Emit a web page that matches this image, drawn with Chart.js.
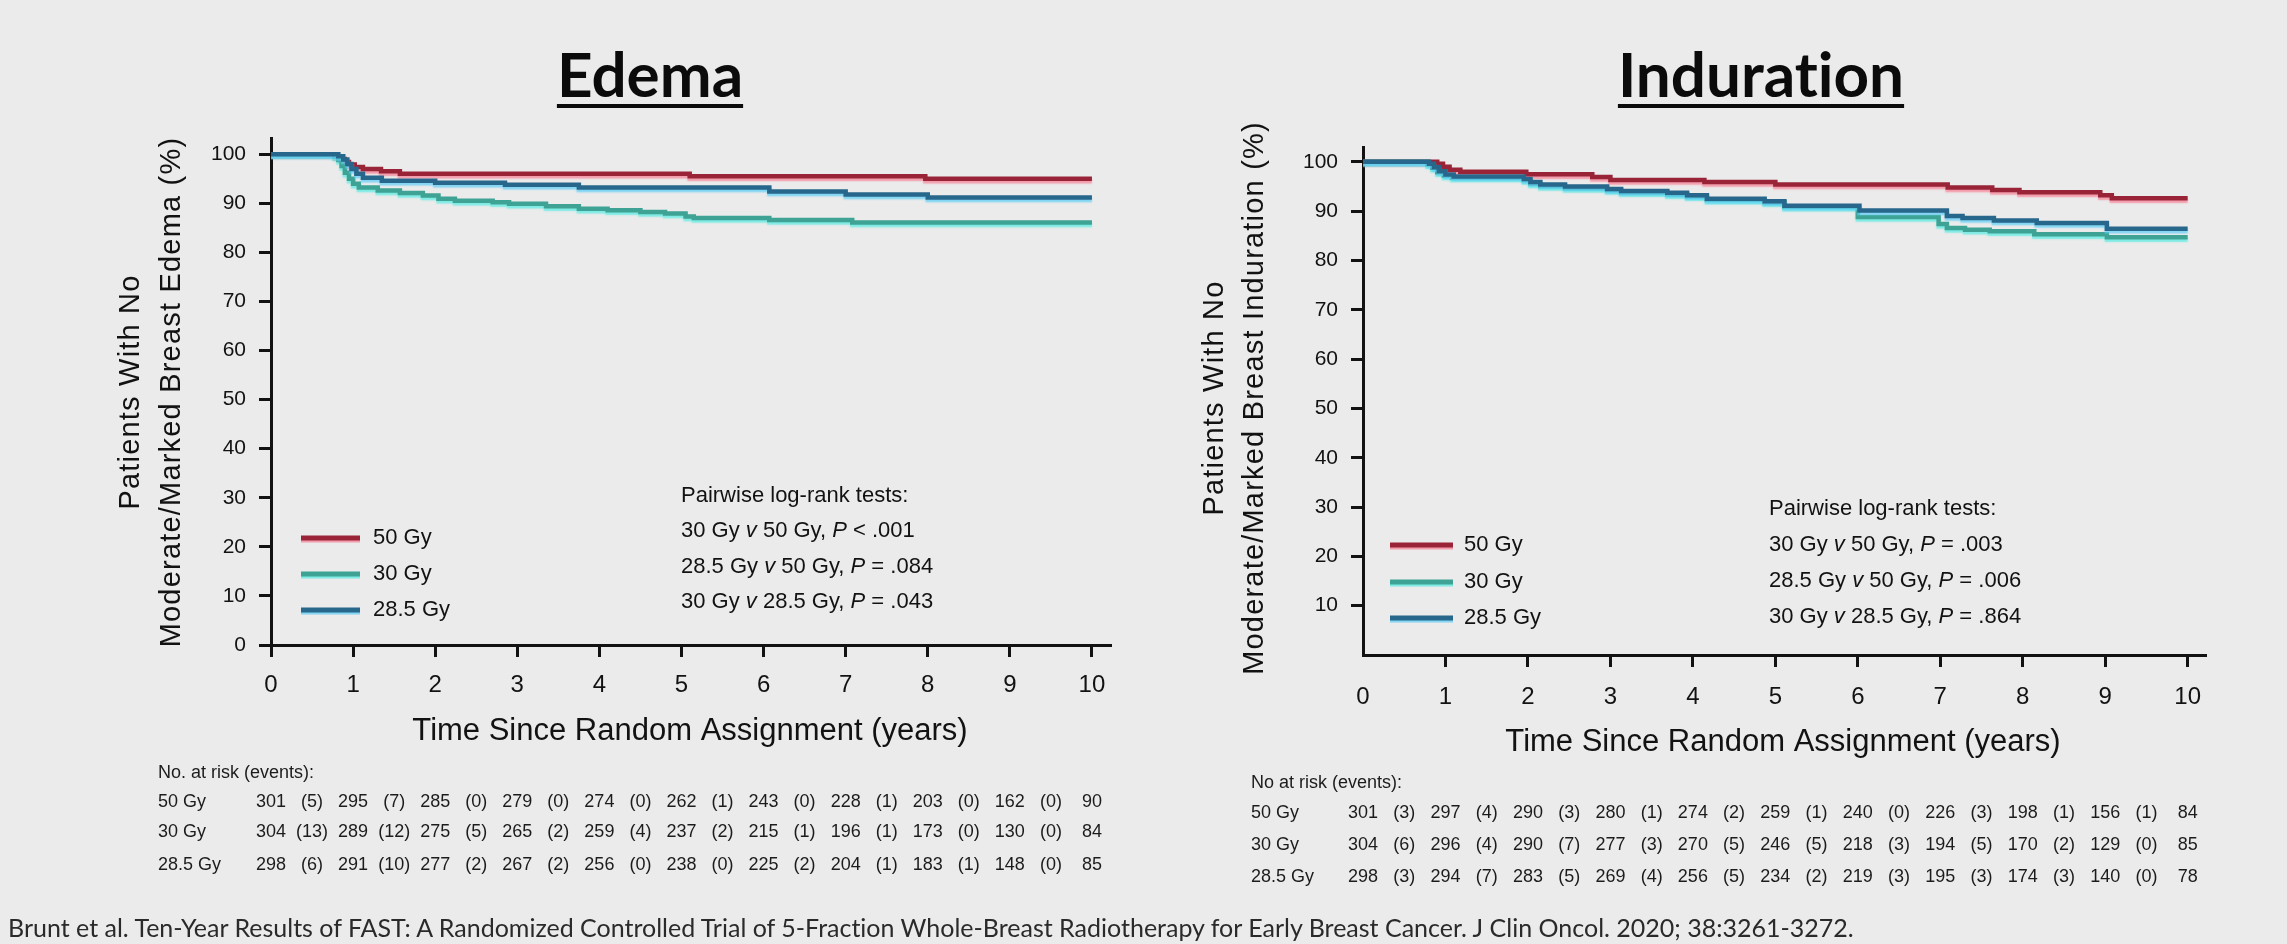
<!DOCTYPE html>
<html>
<head>
<meta charset="utf-8">
<title>FAST – Edema and Induration</title>
<script src="https://cdn.jsdelivr.net/npm/chart.js@4.4.1/dist/chart.umd.min.js"></script>
<style>
  html, body { margin: 0; padding: 0; background: #ebebeb; }
  #stage { position: relative; width: 2287px; height: 944px; overflow: hidden; background: #ebebeb; }
  #stage canvas { position: absolute; top: 0; }
  .panel-title {
    position: absolute; top: 42px;
    font-family: Lato, "Open Sans", sans-serif; font-weight: 700; font-size: 62px; line-height: 62px;
    font-variant-ligatures: none;
    color: #0b0b0b; white-space: nowrap; transform: translateX(-50%);
    text-decoration: underline; text-decoration-thickness: 4px; text-underline-offset: 7px;
  }
  .cite {
    position: absolute; left: 8px; top: 915px;
    font-family: Lato, "Open Sans", sans-serif; font-size: 25px; line-height: 25px;
    font-variant-ligatures: none;
    color: #2a2a2a; white-space: nowrap;
  }
</style>
</head>
<body>
<div id="stage">
  <canvas id="edemaChart" width="1150" height="944" style="left:0"></canvas>
  <canvas id="indurationChart" width="1137" height="944" style="left:1150px"></canvas>
  <div class="panel-title" style="left:650px">Edema</div>
  <div class="panel-title" style="left:1761px">Induration</div>
  <div class="cite">Brunt et al. Ten-Year Results of FAST: A Randomized Controlled Trial of 5-Fraction Whole-Breast Radiotherapy for Early Breast Cancer. J Clin Oncol. 2020; 38:3261-3272.</div>
</div>

<script>
// ---- axis tick values ----
const yearTicks = [0, 1, 2, 3, 4, 5, 6, 7, 8, 9, 10];
const edemaPctTicks = [0, 10, 20, 30, 40, 50, 60, 70, 80, 90, 100];
const indurationPctTicks = [10, 20, 30, 40, 50, 60, 70, 80, 90, 100];

// ---- Kaplan-Meier curves: [years, % free of moderate/marked change] ----
const edema50 = [[0,100],[0.78,99.6],[0.85,99.0],[0.9,98.4],[0.95,97.9],[1.02,97.4],[1.12,97.0],[1.34,96.5],[1.57,96.0],[5.1,95.5],[7.97,95.0],[10,95.0]];
const edema30 = [[0,100],[0.77,99.6],[0.82,98.8],[0.86,97.6],[0.9,96.2],[0.95,95.0],[1.0,94.0],[1.07,93.2],[1.3,92.6],[1.57,92.1],[1.85,91.6],[2.04,90.9],[2.24,90.5],[2.7,90.2],[2.9,89.9],[3.35,89.4],[3.75,88.9],[4.1,88.6],[4.5,88.2],[4.8,87.9],[5.05,87.3],[5.15,87.0],[6.07,86.6],[7.08,86.1],[10,86.1]];
const edema285 = [[0,100],[0.82,99.6],[0.88,98.9],[0.93,98.0],[0.98,97.0],[1.04,96.0],[1.12,95.2],[1.35,94.6],[2.0,94.2],[2.85,93.8],[3.75,93.2],[6.07,92.4],[7.0,91.8],[8.0,91.2],[10,91.2]];

const induration50 = [[0,100],[0.9,99.6],[0.97,99.0],[1.05,98.4],[1.18,98.0],[1.98,97.5],[2.78,96.9],[3.0,96.3],[4.14,95.9],[5.0,95.4],[7.09,94.8],[7.63,94.3],[7.96,93.8],[8.94,93.2],[9.08,92.6],[10,92.6]];
const induration30 = [[0,100],[0.78,99.5],[0.84,98.8],[0.9,97.9],[0.98,97.2],[1.08,96.8],[1.95,96.3],[2.03,95.6],[2.15,95.1],[2.45,94.7],[2.96,94.3],[3.13,93.8],[3.69,93.4],[3.93,93.0],[4.17,92.3],[4.87,91.8],[5.11,90.9],[6.0,88.8],[6.98,87.4],[7.08,86.6],[7.3,86.2],[7.6,85.9],[8.14,85.3],[9.02,84.7],[10,84.7]];
const induration285 = [[0,100],[0.8,99.6],[0.86,98.9],[0.92,98.1],[1.0,97.4],[1.1,97.0],[1.95,96.5],[2.03,95.9],[2.15,95.4],[2.45,95.0],[2.96,94.5],[3.13,94.1],[3.69,93.7],[3.93,93.2],[4.17,92.5],[4.87,92.0],[5.11,91.1],[6.02,90.1],[7.08,89.0],[7.27,88.6],[7.65,88.1],[8.17,87.6],[9.02,86.4],[10,86.4]];

// ---- numbers at risk (at each year) and events (within each year) ----
const armLabels = ['50 Gy', '30 Gy', '28.5 Gy'];
const edemaAtRisk = [
  [301, 295, 285, 279, 274, 262, 243, 228, 203, 162, 90],
  [304, 289, 275, 265, 259, 237, 215, 196, 173, 130, 84],
  [298, 291, 277, 267, 256, 238, 225, 204, 183, 148, 85]
];
const edemaEvents = [
  [5, 7, 0, 0, 0, 1, 0, 1, 0, 0],
  [13, 12, 5, 2, 4, 2, 1, 1, 0, 0],
  [6, 10, 2, 2, 0, 0, 2, 1, 1, 0]
];
const indurationAtRisk = [
  [301, 297, 290, 280, 274, 259, 240, 226, 198, 156, 84],
  [304, 296, 290, 277, 270, 246, 218, 194, 170, 129, 85],
  [298, 294, 283, 269, 256, 234, 219, 195, 174, 140, 78]
];
const indurationEvents = [
  [3, 4, 3, 1, 2, 1, 0, 3, 1, 1],
  [6, 4, 7, 3, 5, 5, 3, 5, 2, 0],
  [3, 7, 5, 4, 5, 2, 3, 3, 3, 0]
];

// ---- pairwise log-rank results: [arm, compared arm, relation, p] ----
const edemaTests = [['30 Gy', '50 Gy', '<', '.001'], ['28.5 Gy', '50 Gy', '=', '.084'], ['30 Gy', '28.5 Gy', '=', '.043']];
const indurationTests = [['30 Gy', '50 Gy', '=', '.003'], ['28.5 Gy', '50 Gy', '=', '.006'], ['30 Gy', '28.5 Gy', '=', '.864']];

// ---- styling ----
const SANS = '"Liberation Sans", Arial, Helvetica, sans-serif';
const INK = '#121212';
const armStyle = [
  { color: '#992438', halo: 'rgba(245,130,150,0.75)' },
  { color: '#3ea394', halo: 'rgba(90,235,225,0.75)' },
  { color: '#28678c', halo: 'rgba(95,205,245,0.75)' }
];

// soft coloured fringe under each curve
const haloPlugin = {
  id: 'curveHalo',
  beforeDatasetDraw(chart, args) {
    const ds = chart.data.datasets[args.index];
    const c = chart.ctx;
    c.save();
    c.shadowColor = ds.halo;
    c.shadowOffsetX = 0;
    c.shadowOffsetY = 2.5;
    c.shadowBlur = 1.5;
  },
  afterDatasetDraw(chart) { chart.ctx.restore(); }
};

function drawRich(c, x, y, parts, size) {
  let cx = x;
  for (const [txt, italic] of parts) {
    c.font = (italic ? 'italic ' : '') + size + 'px ' + SANS;
    c.fillText(txt, cx, y);
    cx += c.measureText(txt).width;
  }
}

function annotations(spec) {
  return {
    id: 'kmAnnotations',
    afterDraw(chart) {
      const c = chart.ctx;
      const xs = chart.scales.x;
      c.save();
      c.fillStyle = INK;

      // y-axis title (two rotated lines)
      c.save();
      c.font = '29px ' + SANS;
      c.letterSpacing = '1.2px';
      c.textAlign = 'center';
      c.textBaseline = 'middle';
      spec.yTitle.lines.forEach((txt, i) => {
        c.save();
        c.translate(spec.yTitle.xs[i], spec.yTitle.cy);
        c.rotate(-Math.PI / 2);
        c.fillText(txt, 0, 0);
        c.restore();
      });
      c.restore();

      // x-axis title
      c.font = '31px ' + SANS;
      c.textAlign = 'center';
      c.textBaseline = 'alphabetic';
      c.fillText('Time Since Random Assignment (years)', spec.xTitle.cx, spec.xTitle.base);

      // legend
      c.textAlign = 'left';
      c.textBaseline = 'middle';
      c.font = '22px ' + SANS;
      armLabels.forEach((lab, i) => {
        const y = spec.legend.ys[i];
        c.save();
        c.strokeStyle = armStyle[i].halo;
        c.lineWidth = 4;
        c.beginPath(); c.moveTo(spec.legend.x0, y + 2.5); c.lineTo(spec.legend.x1, y + 2.5); c.stroke();
        c.strokeStyle = armStyle[i].color;
        c.lineWidth = 5;
        c.beginPath(); c.moveTo(spec.legend.x0, y); c.lineTo(spec.legend.x1, y); c.stroke();
        c.restore();
        c.fillText(lab, spec.legend.tx, y);
      });

      // pairwise log-rank tests
      c.font = '22px ' + SANS;
      c.fillText('Pairwise log-rank tests:', spec.tests.x, spec.tests.ys[0]);
      spec.tests.rows.forEach((r, i) => {
        drawRich(c, spec.tests.x, spec.tests.ys[i + 1], [
          [r[0] + ' ', false], ['v', true], [' ' + r[1] + ', ', false], ['P', true], [' ' + r[2] + ' ' + r[3], false]
        ], 22);
      });

      // numbers at risk table
      c.font = '18px ' + SANS;
      c.textAlign = 'left';
      c.fillStyle = '#1c1c1c';
      c.fillText(spec.table.header, spec.table.x, spec.table.headerY);
      spec.table.atRisk.forEach((row, g) => {
        const y = spec.table.ys[g];
        c.textAlign = 'left';
        c.fillText(armLabels[g], spec.table.x, y);
        c.textAlign = 'center';
        row.forEach((n, i) => c.fillText(String(n), xs.getPixelForValue(yearTicks[i]), y));
        spec.table.events[g].forEach((e, i) => {
          const mid = (yearTicks[i] + yearTicks[i + 1]) / 2;
          c.fillText('(' + e + ')', xs.getPixelForValue(mid), y);
        });
      });
      c.restore();
    }
  };
}

function buildChart(id, spec) {
  const canvas = document.getElementById(id);
  return new Chart(canvas.getContext('2d'), {
    type: 'line',
    data: {
      datasets: spec.curves.map((pts, i) => ({
        label: armLabels[i],
        data: pts.map(([x, y]) => ({ x, y })),
        borderColor: armStyle[i].color,
        halo: armStyle[i].halo,
        borderWidth: 4.5,
        pointRadius: 0,
        stepped: 'before',
        fill: false,
        tension: 0
      })).reverse()
    },
    options: {
      responsive: false,
      animation: false,
      devicePixelRatio: 1,
      events: [],
      layout: { padding: spec.padding },
      plugins: { legend: { display: false }, tooltip: { enabled: false }, title: { display: false } },
      scales: {
        x: {
          type: 'linear', min: 0, max: spec.xMax,
          afterFit: s => { s.height = 60; },
          afterBuildTicks: s => { s.ticks = yearTicks.map(v => ({ value: v })); },
          ticks: { font: { family: SANS, size: 24 }, color: INK, padding: spec.xTickPad, maxRotation: 0, autoSkip: false, callback: v => String(v) },
          grid: {
            drawOnChartArea: false, drawTicks: true, tickLength: 12, tickWidth: 3, lineWidth: 3,
            tickColor: ctx => (spec.hideZeroXTick && ctx.tick && ctx.tick.value === 0) ? 'rgba(0,0,0,0)' : INK
          },
          border: { display: true, color: INK, width: 3 }
        },
        y: {
          type: 'linear', min: 0, max: spec.yMax,
          afterFit: s => { s.width = 80; },
          afterBuildTicks: s => { s.ticks = spec.yTicks.map(v => ({ value: v })); },
          ticks: { font: { family: SANS, size: 21 }, color: INK, padding: 13, autoSkip: false, callback: v => String(v) },
          grid: { drawOnChartArea: false, drawTicks: true, tickLength: 12, tickWidth: 3, lineWidth: 3, tickColor: INK },
          border: { display: true, color: INK, width: 3 }
        }
      }
    },
    plugins: [haloPlugin, annotations(spec)]
  });
}

buildChart('edemaChart', {
  curves: [edema50, edema30, edema285],
  yTicks: edemaPctTicks,
  xMax: 10.22, yMax: 103.3,
  hideZeroXTick: false,
  xTickPad: 14,
  padding: { left: 191, right: 40, top: 138, bottom: 239 },
  yTitle: { lines: ['Patients With No', 'Moderate/Marked Breast Edema (%)'], xs: [131, 172], cy: 392 },
  xTitle: { cx: 690, base: 740 },
  legend: { x0: 301, x1: 360, tx: 373, ys: [538, 574, 610] },
  tests: { x: 681, ys: [496, 531, 567, 602], rows: edemaTests },
  table: { header: 'No. at risk (events):', x: 158, headerY: 773, ys: [802, 832, 865], atRisk: edemaAtRisk, events: edemaEvents }
});

buildChart('indurationChart', {
  curves: [induration50, induration30, induration285],
  yTicks: indurationPctTicks,
  xMax: 10.21, yMax: 103.0,
  hideZeroXTick: true,
  xTickPad: 16,
  padding: { left: 133, right: 82, top: 147, bottom: 229 },
  yTitle: { lines: ['Patients With No', 'Moderate/Marked Breast Induration (%)'], xs: [65, 105], cy: 398 },
  xTitle: { cx: 633, base: 751 },
  legend: { x0: 240, x1: 303, tx: 314, ys: [545, 582, 618] },
  tests: { x: 619, ys: [509, 545, 581, 617], rows: indurationTests },
  table: { header: 'No at risk (events):', x: 101, headerY: 783, ys: [813, 845, 877], atRisk: indurationAtRisk, events: indurationEvents }
});
</script>
</body>
</html>
